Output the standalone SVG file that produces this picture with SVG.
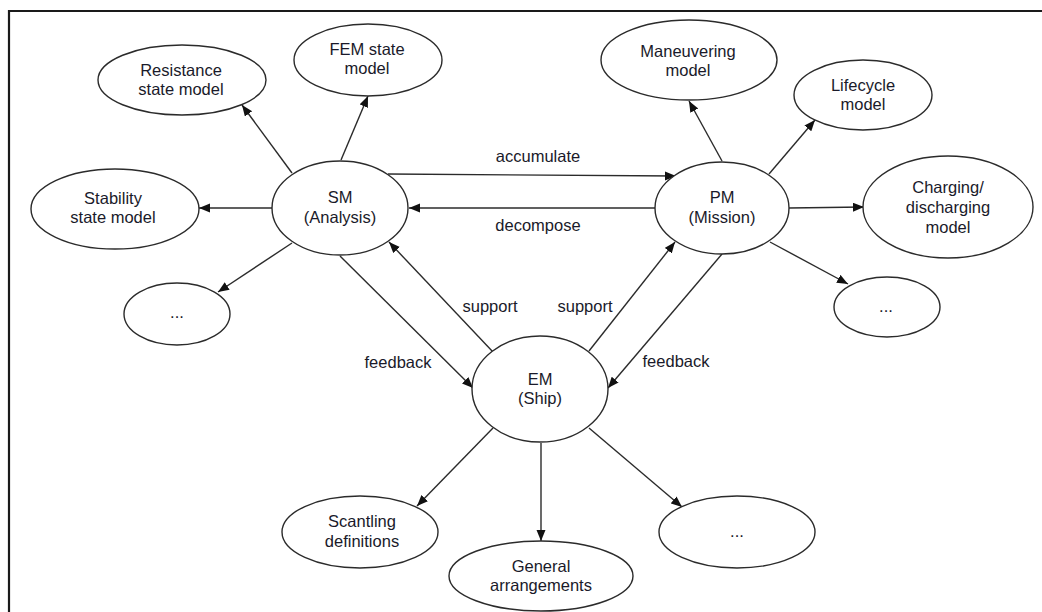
<svg xmlns="http://www.w3.org/2000/svg" width="1042" height="612" viewBox="0 0 1042 612">
  <style>
    .node ellipse { fill: #ffffff; stroke: #2b2b2b; stroke-width: 1.4; }
    .node text, .label { font-family: "Liberation Sans", Arial, sans-serif; font-size: 16.5px; fill: #1a1a2a; text-anchor: middle; }
    .edge { stroke: #2b2b2b; stroke-width: 1.4; fill: none; marker-end: url(#arrow); }
  </style>
  <defs>
    <marker id="arrow" markerUnits="userSpaceOnUse" markerWidth="12" markerHeight="10" refX="11" refY="4.5" orient="auto">
      <path d="M0,0 L11,4.5 L0,9 Z" fill="#111"/>
    </marker>
  </defs>

  <rect x="0" y="0" width="1042" height="612" fill="#ffffff"/>
  <!-- frame: top and left rules only -->
  <path d="M9,612 V11 H1042" fill="none" stroke="#1a1a1a" stroke-width="2.2"/>

  <g id="connectors">
    <!-- SM outputs -->
    <line class="edge" x1="292" y1="173" x2="242" y2="105"/>
    <line class="edge" x1="341" y1="160" x2="368" y2="96"/>
    <line class="edge" x1="272" y1="208" x2="199" y2="208"/>
    <line class="edge" x1="292" y1="243" x2="218" y2="292"/>
    <!-- SM <-> PM -->
    <line class="edge" x1="388" y1="174" x2="676" y2="176"/>
    <line class="edge" x1="656" y1="208" x2="409" y2="208"/>
    <!-- SM <-> EM -->
    <line class="edge" x1="340" y1="256" x2="473" y2="388"/>
    <line class="edge" x1="493" y1="352" x2="389" y2="242"/>
    <!-- PM <-> EM -->
    <line class="edge" x1="589" y1="351" x2="675" y2="242"/>
    <line class="edge" x1="722" y1="254" x2="608" y2="388"/>
    <!-- PM outputs -->
    <line class="edge" x1="722" y1="161" x2="689" y2="101"/>
    <line class="edge" x1="769" y1="174" x2="815" y2="120"/>
    <line class="edge" x1="789" y1="208" x2="864" y2="207"/>
    <line class="edge" x1="770" y1="242" x2="848" y2="284"/>
    <!-- EM outputs -->
    <line class="edge" x1="493" y1="428" x2="417" y2="506"/>
    <line class="edge" x1="541" y1="443" x2="541" y2="541"/>
    <line class="edge" x1="589" y1="428" x2="682" y2="507"/>

    <text class="label" x="538" y="162">accumulate</text>
    <text class="label" x="538" y="231">decompose</text>
    <text class="label" x="490" y="312">support</text>
    <text class="label" x="585" y="312">support</text>
    <text class="label" x="398" y="368">feedback</text>
    <text class="label" x="676" y="367">feedback</text>
  </g>

  <g id="sm" class="node">
    <ellipse cx="340" cy="208" rx="68" ry="47"/>
    <text x="340" y="203">SM</text>
    <text x="340" y="223">(Analysis)</text>
  </g>
  <g id="resistance" class="node">
    <ellipse cx="182" cy="80" rx="84" ry="35"/>
    <text x="181" y="76">Resistance</text>
    <text x="181" y="95">state model</text>
  </g>
  <g id="fem" class="node">
    <ellipse cx="368" cy="60" rx="74" ry="36"/>
    <text x="367" y="55">FEM state</text>
    <text x="367" y="74">model</text>
  </g>
  <g id="stability" class="node">
    <ellipse cx="115" cy="209" rx="84" ry="40"/>
    <text x="113" y="204">Stability</text>
    <text x="113" y="223">state model</text>
  </g>
  <g id="sm-more" class="node">
    <ellipse cx="177" cy="314" rx="53" ry="31"/>
    <text x="177" y="318">...</text>
  </g>

  <g id="pm" class="node">
    <ellipse cx="722" cy="208" rx="67" ry="46"/>
    <text x="722" y="203">PM</text>
    <text x="722" y="223">(Mission)</text>
  </g>
  <g id="maneuvering" class="node">
    <ellipse cx="689" cy="60" rx="88" ry="40"/>
    <text x="688" y="57">Maneuvering</text>
    <text x="688" y="76">model</text>
  </g>
  <g id="lifecycle" class="node">
    <ellipse cx="863" cy="95" rx="69" ry="35"/>
    <text x="863" y="91">Lifecycle</text>
    <text x="863" y="110">model</text>
  </g>
  <g id="charging" class="node">
    <ellipse cx="948" cy="207" rx="85" ry="51"/>
    <text x="948" y="193">Charging/</text>
    <text x="948" y="213">discharging</text>
    <text x="948" y="233">model</text>
  </g>
  <g id="pm-more" class="node">
    <ellipse cx="887" cy="307" rx="53" ry="30"/>
    <text x="886" y="312">...</text>
  </g>

  <g id="em" class="node">
    <ellipse cx="540" cy="389" rx="68" ry="53"/>
    <text x="540" y="385">EM</text>
    <text x="540" y="404">(Ship)</text>
  </g>
  <g id="scantling" class="node">
    <ellipse cx="360" cy="532" rx="78" ry="36"/>
    <text x="362" y="527">Scantling</text>
    <text x="362" y="547">definitions</text>
  </g>
  <g id="general" class="node">
    <ellipse cx="541" cy="576" rx="92" ry="35"/>
    <text x="541" y="572">General</text>
    <text x="541" y="591">arrangements</text>
  </g>
  <g id="em-more" class="node">
    <ellipse cx="737" cy="532" rx="78" ry="36"/>
    <text x="737" y="537">...</text>
  </g>
</svg>
